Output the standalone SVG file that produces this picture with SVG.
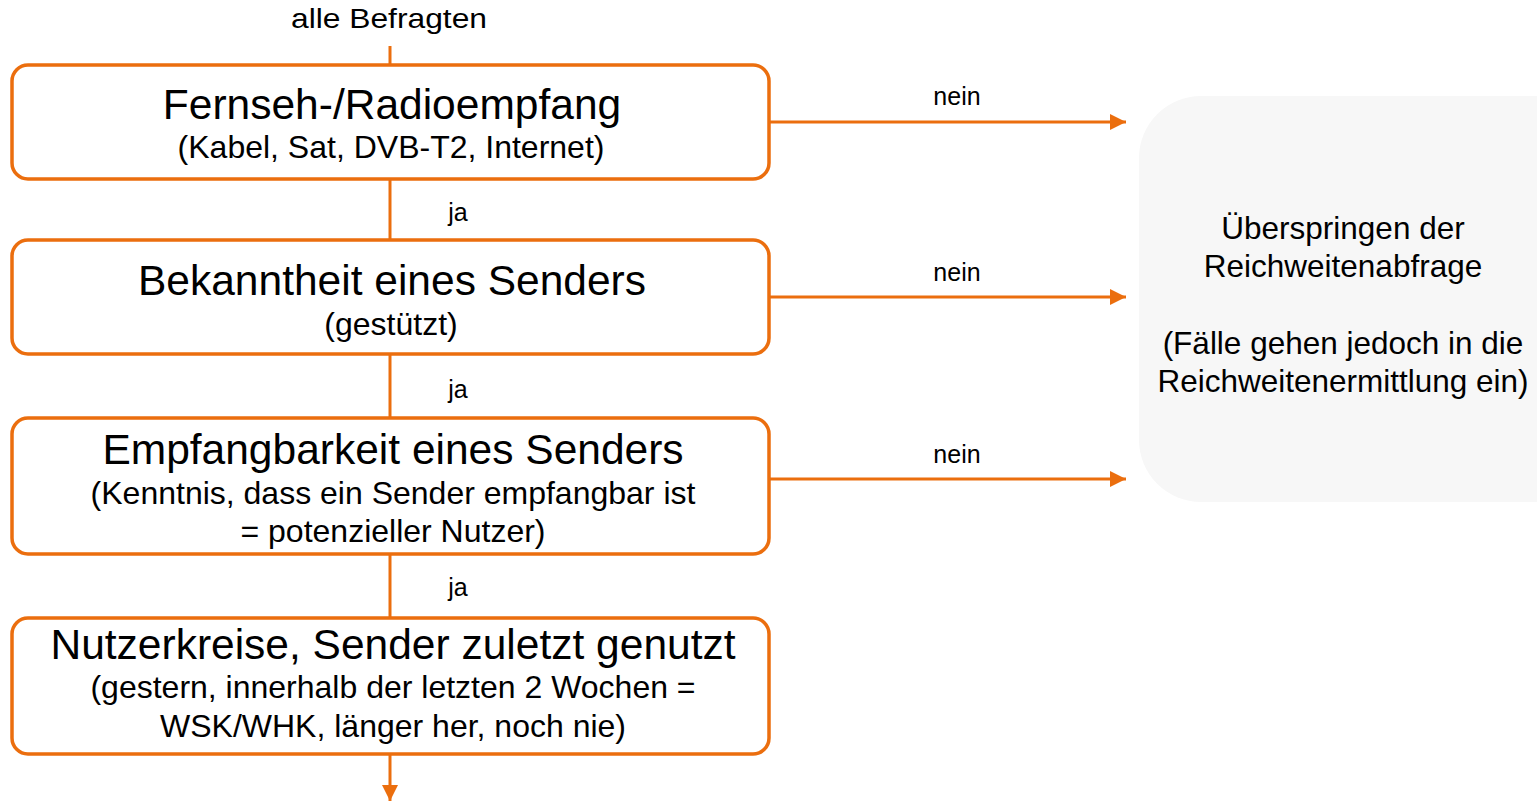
<svg xmlns="http://www.w3.org/2000/svg" width="1537" height="801" viewBox="0 0 1537 801">
<defs>
<marker id="ah" markerWidth="16" markerHeight="16" refX="16" refY="8" orient="auto" markerUnits="userSpaceOnUse">
<path d="M0,0 L16,8 L0,16 Z" fill="#EB6E0E"/>
</marker>
<style>
.box{fill:#fff;stroke:#EB6E0E;stroke-width:3.5}
.ln{stroke:#EB6E0E;stroke-width:3;fill:none}
text{font-family:"Liberation Sans",Arial,sans-serif;fill:#000;text-anchor:middle}
.t{font-size:42.5px}
.s{font-size:32px}
.l{font-size:25px}
.r{font-size:31.5px}
</style>
</defs>
<rect width="1537" height="801" fill="#fff"/>
<g id="connectors">
<line class="ln" x1="390" y1="46" x2="390" y2="65"/>
<line class="ln" x1="390" y1="179" x2="390" y2="240"/>
<line class="ln" x1="390" y1="354" x2="390" y2="418"/>
<line class="ln" x1="390" y1="554" x2="390" y2="618"/>
<line class="ln" x1="390" y1="754" x2="390" y2="801" marker-end="url(#ah)"/>
<line class="ln" x1="769" y1="122" x2="1126" y2="122" marker-end="url(#ah)"/>
<line class="ln" x1="769" y1="297" x2="1126" y2="297" marker-end="url(#ah)"/>
<line class="ln" x1="769" y1="479" x2="1126" y2="479" marker-end="url(#ah)"/>
<text class="l" x="458" y="221">ja</text>
<text class="l" x="458" y="398">ja</text>
<text class="l" x="458" y="596">ja</text>
<text class="l" x="957" y="105">nein</text>
<text class="l" x="957" y="281">nein</text>
<text class="l" x="957" y="463">nein</text>
</g>
<g id="start">
<text x="389" y="28" style="font-size:27.5px" textLength="196" lengthAdjust="spacingAndGlyphs">alle Befragten</text>
</g>
<g id="n1">
<rect class="box" x="12" y="65" width="757" height="114" rx="16"/>
<text class="t" x="392" y="119">Fernseh-/Radioempfang</text>
<text class="s" x="391" y="158">(Kabel, Sat, DVB-T2, Internet)</text>
</g>
<g id="n2">
<rect class="box" x="12" y="240" width="757" height="114" rx="16"/>
<text class="t" x="392" y="295">Bekanntheit eines Senders</text>
<text class="s" x="391" y="335">(gestützt)</text>
</g>
<g id="n3">
<rect class="box" x="12" y="418" width="757" height="136" rx="16"/>
<text class="t" x="393" y="464">Empfangbarkeit eines Senders</text>
<text class="s" x="393" y="504">(Kenntnis, dass ein Sender empfangbar ist</text>
<text class="s" x="393" y="542">= potenzieller Nutzer)</text>
</g>
<g id="n4">
<rect class="box" x="12" y="618" width="757" height="136" rx="16"/>
<text class="t" x="393" y="659">Nutzerkreise, Sender zuletzt genutzt</text>
<text class="s" x="393" y="698">(gestern, innerhalb der letzten 2 Wochen =</text>
<text class="s" x="393" y="737">WSK/WHK, länger her, noch nie)</text>
</g>
<g id="skip">
<rect x="1139" y="96" width="460" height="406" rx="62" fill="#F7F7F7"/>
<text class="r" x="1343" y="239">Überspringen der</text>
<text class="r" x="1343" y="277">Reichweitenabfrage</text>
<text class="r" x="1343" y="354">(Fälle gehen jedoch in die</text>
<text class="r" x="1343" y="392">Reichweitenermittlung ein)</text>
</g>
</svg>
